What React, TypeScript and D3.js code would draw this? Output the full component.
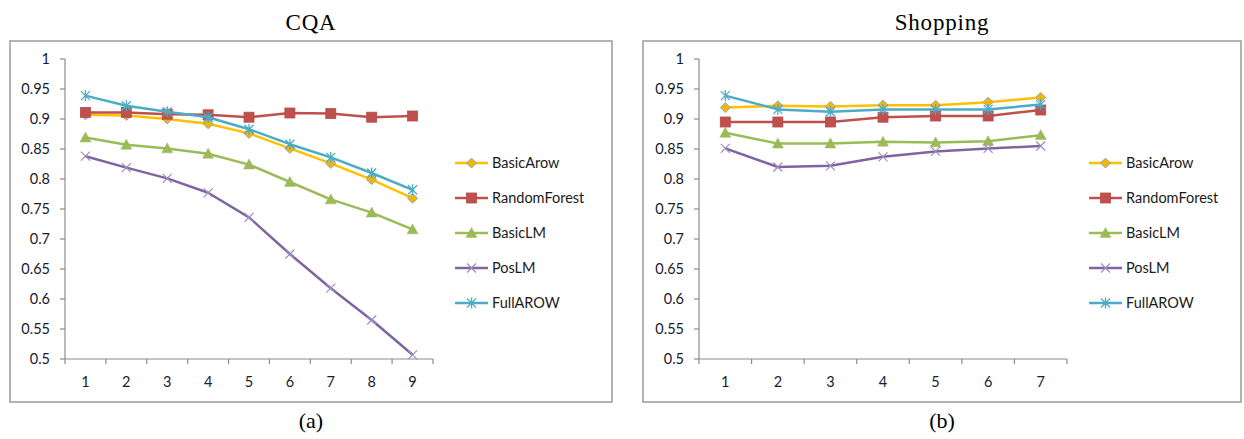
import React from "react";
import * as d3 from "d3";

const seriesNames = ["BasicArow", "RandomForest", "BasicLM", "PosLM", "FullAROW"];
const seriesColors = ["#FFC000", "#C0504D", "#9BBB59", "#8064A2", "#4BACC6"];
const markerTypes = ["diamond", "square", "triangle", "x", "star"];

const yTicks = [0.5, 0.55, 0.6, 0.65, 0.7, 0.75, 0.8, 0.85, 0.9, 0.95, 1];
const yTickLabels = ["0.5", "0.55", "0.6", "0.65", "0.7", "0.75", "0.8", "0.85", "0.9", "0.95", "1"];

const cqaCategories = ["1", "2", "3", "4", "5", "6", "7", "8", "9"];
const cqaBasicArow = [0.907, 0.906, 0.9, 0.892, 0.876, 0.851, 0.826, 0.799, 0.768];
const cqaRandomForest = [0.911, 0.911, 0.908, 0.907, 0.903, 0.91, 0.909, 0.903, 0.905];
const cqaBasicLM = [0.869, 0.857, 0.851, 0.842, 0.824, 0.795, 0.766, 0.744, 0.716];
const cqaPosLM = [0.838, 0.819, 0.801, 0.777, 0.736, 0.675, 0.618, 0.565, 0.507];
const cqaFullAROW = [0.939, 0.922, 0.912, 0.903, 0.883, 0.858, 0.836, 0.81, 0.782];

const shopCategories = ["1", "2", "3", "4", "5", "6", "7"];
const shopBasicArow = [0.919, 0.922, 0.921, 0.923, 0.923, 0.928, 0.936];
const shopRandomForest = [0.895, 0.895, 0.895, 0.903, 0.905, 0.905, 0.915];
const shopBasicLM = [0.877, 0.859, 0.859, 0.862, 0.861, 0.863, 0.873];
const shopPosLM = [0.851, 0.82, 0.822, 0.837, 0.846, 0.851, 0.855];
const shopFullAROW = [0.939, 0.916, 0.912, 0.916, 0.916, 0.916, 0.924];

const SANS = "Lato, 'Open Sans', 'DejaVu Sans', sans-serif";
const SERIF = "'Liberation Serif', 'DejaVu Serif', serif";

function Marker({ type, x, y, color }: { type: string; x: number; y: number; color: string }) {
  if (type === "diamond") {
    const r = 5;
    return (
      <path
        d={`M${x},${y - r}L${x + r},${y}L${x},${y + r}L${x - r},${y}Z`}
        fill="#F2B705"
        stroke="#8FA6C0"
        strokeWidth={1}
      />
    );
  }
  if (type === "square") {
    const r = 5;
    return <rect x={x - r} y={y - r} width={2 * r} height={2 * r} fill={color} stroke="#B84A47" strokeWidth={0.8} />;
  }
  if (type === "triangle") {
    const r = 5.5;
    return (
      <path d={`M${x},${y - r}L${x + r},${y + r * 0.8}L${x - r},${y + r * 0.8}Z`} fill={color} stroke={color} strokeWidth={0.5} />
    );
  }
  if (type === "x") {
    const r = 4.5;
    return (
      <path d={`M${x - r},${y - r}L${x + r},${y + r}M${x - r},${y + r}L${x + r},${y - r}`} stroke="#A08DC0" strokeWidth={1.2} fill="none" />
    );
  }
  const r = 4.5;
  return (
    <path
      d={`M${x - r},${y - r}L${x + r},${y + r}M${x - r},${y + r}L${x + r},${y - r}M${x},${y - r - 1}L${x},${y + r + 1}`}
      stroke={color}
      strokeWidth={1.3}
      fill="none"
    />
  );
}

type PanelProps = {
  title: string;
  sub: string;
  frame: [number, number, number, number];
  xRange: [number, number];
  categories: string[];
  data: number[][];
  legendX: number;
};

function Panel({ title, sub, frame, xRange, categories, data, legendX }: PanelProps) {
  const [fx, fy, fw, fh] = frame;
  const y = d3.scaleLinear().domain([0.5, 1]).range([359, 59]);
  const x = d3.scaleBand<string>().domain(categories).range(xRange).paddingInner(0).paddingOuter(0);
  const cx = (c: string) => (x(c) as number) + x.bandwidth() / 2;
  const line = d3
    .line<number>()
    .x((_, i) => cx(categories[i]))
    .y((d) => y(d));
  const axisX = xRange[0];
  const edges = categories.map((c) => x(c) as number).concat([xRange[1]]);
  const centerX = fx + fw / 2;
  const legendY = [163, 198, 233, 268, 303];
  return (
    <g>
      <text x={centerX} y={30} textAnchor="middle" fontFamily={SERIF} fontSize={23} letterSpacing={0.8} fill="#000">
        {title}
      </text>
      <rect x={fx} y={fy} width={fw} height={fh} fill="#fff" stroke="#9a9a9a" strokeWidth={1.5} />
      {/* y axis */}
      <line x1={axisX} y1={y(1)} x2={axisX} y2={y(0.5)} stroke="#8c8c8c" strokeWidth={1.2} />
      {yTicks.map((t, i) => (
        <g key={i}>
          <line x1={axisX - 5} x2={axisX} y1={y(t)} y2={y(t)} stroke="#8c8c8c" strokeWidth={1.2} />
          <text x={axisX - 15} y={y(t)} dy="0.36em" textAnchor="end" fontFamily={SANS} fontSize={14.5} fill="#1a1a2e">
            {yTickLabels[i]}
          </text>
        </g>
      ))}
      {/* x axis */}
      <line x1={xRange[0]} x2={xRange[1]} y1={y(0.5)} y2={y(0.5)} stroke="#8c8c8c" strokeWidth={1.2} />
      {edges.map((e, i) => (
        <line key={i} x1={e} x2={e} y1={y(0.5)} y2={y(0.5) + 5} stroke="#8c8c8c" strokeWidth={1.2} />
      ))}
      {categories.map((c) => (
        <text key={c} x={cx(c)} y={382} dy="0.36em" textAnchor="middle" fontFamily={SANS} fontSize={14.5} fill="#1a1a2e">
          {c}
        </text>
      ))}
      {/* series */}
      {data.map((vals, s) => (
        <g key={s}>
          <path d={line(vals) as string} fill="none" stroke={seriesColors[s]} strokeWidth={2.5} strokeLinejoin="round" />
          {vals.map((v, i) => (
            <Marker key={i} type={markerTypes[s]} x={cx(categories[i])} y={y(v)} color={seriesColors[s]} />
          ))}
        </g>
      ))}
      {/* legend */}
      {seriesNames.map((n, s) => (
        <g key={n}>
          <line x1={legendX} x2={legendX + 33} y1={legendY[s]} y2={legendY[s]} stroke={seriesColors[s]} strokeWidth={2.5} />
          <Marker type={markerTypes[s]} x={legendX + 16.5} y={legendY[s]} color={seriesColors[s]} />
          <text x={legendX + 37} y={legendY[s]} dy="0.36em" fontFamily={SANS} fontSize={14.5} fill="#1a1a1a">
            {n}
          </text>
        </g>
      ))}
      <text x={centerX} y={428} textAnchor="middle" fontFamily={SERIF} fontSize={22} fill="#000">
        {sub}
      </text>
    </g>
  );
}

export default function App() {
  return (
    <svg width={1244} height={439} style={{ position: "absolute", left: 0, top: 0, background: "#fff" }}>
      <rect x={0} y={0} width={1244} height={439} fill="#fff" />
      <Panel
        title="CQA"
        sub="(a)"
        frame={[10, 41, 602, 361]}
        xRange={[65, 433]}
        categories={cqaCategories}
        data={[cqaBasicArow, cqaRandomForest, cqaBasicLM, cqaPosLM, cqaFullAROW]}
        legendX={455}
      />
      <Panel
        title="Shopping"
        sub="(b)"
        frame={[643, 41, 598, 361]}
        xRange={[699, 1067]}
        categories={shopCategories}
        data={[shopBasicArow, shopRandomForest, shopBasicLM, shopPosLM, shopFullAROW]}
        legendX={1089}
      />
    </svg>
  );
}
